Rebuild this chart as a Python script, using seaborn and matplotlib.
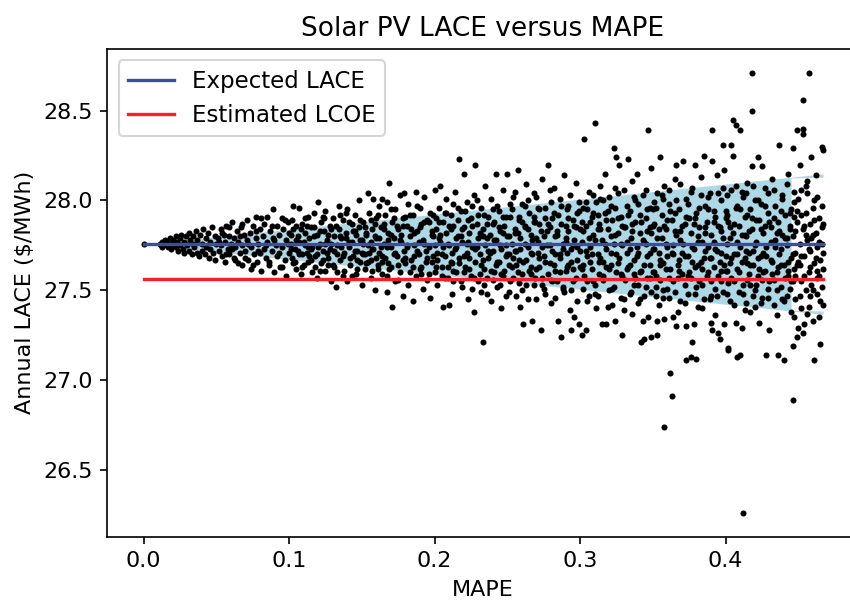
import matplotlib
matplotlib.use("Agg")
import matplotlib.pyplot as plt
import seaborn as sns

plt.rcParams["font.size"] = 10.7

# ---------------- data ----------------
expected_lace = 27.756
estimated_lcoe = 27.561
mape_range = [0.0, 0.467]
band_upper = [27.756, 28.148]
band_lower = [27.756, 27.367]

mape_a = [0.000, 0.011, 0.012, 0.013, 0.013, 0.014, 0.015, 0.016, 0.016, 0.017, 0.018, 0.019, 0.019, 0.020,
          0.021, 0.022, 0.022, 0.023, 0.024, 0.025, 0.025, 0.026, 0.027, 0.028, 0.028, 0.029, 0.030, 0.031,
          0.031, 0.032, 0.033, 0.034, 0.034, 0.035, 0.036, 0.037, 0.037, 0.038, 0.039, 0.040, 0.040, 0.041,
          0.042, 0.043, 0.043, 0.044, 0.045, 0.046, 0.046, 0.047, 0.048, 0.049, 0.049, 0.050]
lace_a = [27.756, 27.76, 27.75, 27.77, 27.74, 27.76, 27.78, 27.75, 27.77, 27.74, 27.79, 27.76, 27.73, 27.78,
          27.75, 27.80, 27.74, 27.77, 27.72, 27.79, 27.75, 27.81, 27.73, 27.77, 27.71, 27.80, 27.75, 27.82,
          27.72, 27.78, 27.70, 27.80, 27.76, 27.74, 27.83, 27.71, 27.78, 27.69, 27.81, 27.76, 27.72, 27.84,
          27.70, 27.79, 27.74, 27.82, 27.68, 27.77, 27.73, 27.85, 27.71, 27.80, 27.67, 27.76]

mape_b = [0.051, 0.052, 0.053, 0.053, 0.054, 0.055, 0.056, 0.056, 0.057, 0.058, 0.059, 0.059, 0.060, 0.061,
          0.062, 0.062, 0.063, 0.064, 0.065, 0.065, 0.066, 0.067, 0.068, 0.068, 0.069, 0.070, 0.071, 0.071,
          0.072, 0.073, 0.074, 0.074, 0.075, 0.076, 0.077, 0.077, 0.078, 0.079, 0.080, 0.080, 0.081, 0.082,
          0.083, 0.083, 0.084, 0.085, 0.085, 0.086, 0.087, 0.088, 0.089, 0.089, 0.090, 0.091, 0.092, 0.092,
          0.093, 0.094, 0.095, 0.095, 0.096, 0.097, 0.098, 0.098, 0.099, 0.100, 0.100]
lace_b = [27.79, 27.72, 27.84, 27.75, 27.69, 27.81, 27.77, 27.66, 27.86, 27.73, 27.80, 27.70, 27.76, 27.88,
          27.68, 27.79, 27.74, 27.83, 27.65, 27.77, 27.71, 27.85, 27.75, 27.64, 27.81, 27.72, 27.89, 27.78,
          27.67, 27.82, 27.74, 27.62, 27.86, 27.70, 27.79, 27.91, 27.66, 27.76, 27.84, 27.71, 27.61, 27.80,
          27.73, 27.87, 27.68, 27.91, 27.77, 27.64, 27.83, 27.72, 27.95, 27.79, 27.60, 27.75, 27.86, 27.69,
          27.81, 27.63, 27.90, 27.74, 27.84, 27.67, 27.78, 27.58, 27.88, 27.71, 27.82]

mape_c = [0.101, 0.102, 0.103, 0.103, 0.104, 0.105, 0.106, 0.107, 0.107, 0.108, 0.109, 0.110, 0.110, 0.111,
          0.112, 0.113, 0.113, 0.114, 0.115, 0.116, 0.116, 0.117, 0.118, 0.119, 0.119, 0.120, 0.121, 0.122,
          0.122, 0.123, 0.124, 0.125, 0.125, 0.126, 0.127, 0.128, 0.128, 0.129, 0.130, 0.131, 0.131, 0.132,
          0.133, 0.134, 0.134, 0.135, 0.136, 0.137, 0.137, 0.138, 0.139, 0.140, 0.140, 0.141, 0.142, 0.143,
          0.143, 0.144, 0.145, 0.146, 0.146, 0.147, 0.148, 0.148, 0.149, 0.150, 0.150,
          0.101, 0.102, 0.104, 0.105, 0.106, 0.108, 0.109, 0.111, 0.112, 0.114, 0.115, 0.117, 0.118, 0.120,
          0.121, 0.123, 0.124, 0.126, 0.127, 0.129, 0.130, 0.132, 0.133, 0.135, 0.136, 0.138, 0.139, 0.141,
          0.142, 0.144, 0.145, 0.147, 0.149, 0.150]
lace_c = [27.76, 27.68, 27.97, 27.84, 27.73, 27.62, 27.80, 27.96, 27.70, 27.59, 27.87, 27.77, 27.64, 27.82,
          27.71, 27.91, 27.66, 27.79, 27.85, 27.60, 27.74, 27.93, 27.69, 27.81, 27.57, 27.99, 27.76, 27.88,
          27.65, 27.72, 27.83, 27.61, 27.94, 27.78, 27.68, 27.86, 27.73, 27.55, 27.90, 27.80, 27.63, 27.52,
          27.75, 27.97, 27.84, 27.67, 27.79, 27.58, 27.89, 27.71, 27.82, 27.55, 27.95, 27.74, 27.64, 27.87,
          27.77, 27.69, 27.92, 27.59, 27.81, 27.72, 28.00, 27.85, 27.66, 27.78, 27.53,
          27.81, 27.89, 27.66, 27.78, 27.72, 27.84, 27.70, 27.75, 27.86, 27.69, 27.73, 27.80, 27.63, 27.74,
          27.83, 27.67, 27.90, 27.71, 27.81, 27.76, 27.64, 27.86, 27.70, 27.92, 27.74, 27.61, 27.79, 27.88,
          27.68, 27.83, 27.72, 27.62, 27.89, 27.71]

mape_d = [0.151, 0.152, 0.152, 0.153, 0.154, 0.154, 0.155, 0.156, 0.156, 0.157, 0.158, 0.158, 0.159, 0.160,
          0.160, 0.161, 0.162, 0.162, 0.163, 0.164, 0.164, 0.165, 0.166, 0.166, 0.167, 0.167, 0.168, 0.169,
          0.169, 0.170, 0.171, 0.171, 0.172, 0.173, 0.173, 0.174, 0.175, 0.176, 0.176, 0.177, 0.178, 0.178,
          0.179, 0.179, 0.180, 0.181, 0.182, 0.182, 0.183, 0.184, 0.185, 0.185, 0.186, 0.187, 0.187, 0.188,
          0.189, 0.190, 0.190, 0.191, 0.192, 0.192, 0.193, 0.194, 0.195, 0.195, 0.196, 0.197, 0.197, 0.198,
          0.199, 0.200, 0.200,
          0.151, 0.152, 0.153, 0.155, 0.156, 0.157, 0.159, 0.160, 0.161, 0.163, 0.164, 0.165, 0.167, 0.168,
          0.170, 0.170, 0.172, 0.174, 0.175, 0.177, 0.178, 0.180, 0.181, 0.183, 0.184, 0.186, 0.188, 0.189,
          0.191, 0.193, 0.194, 0.196, 0.198, 0.199, 0.200]
lace_d = [27.88, 27.70, 27.62, 27.81, 28.04, 27.75, 27.93, 27.57, 27.67, 27.84, 28.01, 27.73, 27.50, 27.90,
          27.79, 27.64, 27.97, 27.71, 27.85, 28.01, 27.59, 27.76, 27.68, 27.92, 27.49, 27.99, 27.82, 28.10,
          27.62, 27.74, 27.41, 27.88, 27.79, 27.55, 27.95, 27.69, 27.84, 27.60, 28.03, 27.77, 27.47, 27.90,
          28.04, 27.72, 27.65, 27.86, 27.53, 27.98, 27.80, 27.67, 27.92, 27.44, 27.75, 27.58, 28.05, 27.83,
          27.70, 27.62, 27.96, 27.87, 27.51, 27.78, 28.02, 27.66, 27.89, 27.56, 27.74, 27.93, 27.46, 27.81,
          27.69, 28.06, 27.60,
          27.76, 27.85, 27.65, 27.71, 27.89, 27.61, 27.80, 27.68, 27.92, 27.74, 27.66, 27.87, 27.58, 27.78,
          27.95, 27.63, 27.70, 27.86, 27.56, 27.81, 27.67, 27.91, 27.74, 27.60, 27.84, 27.69, 27.97, 27.77,
          27.63, 27.88, 27.72, 27.59, 27.83, 27.92, 27.75]

mape_e = [0.201, 0.202, 0.202, 0.203, 0.204, 0.204, 0.205, 0.206, 0.206, 0.207, 0.208, 0.208, 0.209, 0.210,
          0.210, 0.211, 0.212, 0.212, 0.213, 0.214, 0.214, 0.215, 0.216, 0.217, 0.217, 0.218, 0.219, 0.219,
          0.220, 0.220, 0.221, 0.222, 0.222, 0.223, 0.224, 0.225, 0.225, 0.226, 0.227, 0.227, 0.228, 0.228,
          0.229, 0.230, 0.230, 0.231, 0.232, 0.232, 0.233, 0.233, 0.234, 0.235, 0.235, 0.236, 0.237, 0.237,
          0.238, 0.239, 0.239, 0.240, 0.241, 0.241, 0.242, 0.242, 0.243, 0.244, 0.244, 0.245, 0.246, 0.246,
          0.247, 0.247, 0.248, 0.249, 0.249, 0.250, 0.250,
          0.201, 0.203, 0.203, 0.205, 0.207, 0.207, 0.209, 0.211, 0.211, 0.213, 0.213, 0.215, 0.216, 0.218,
          0.218, 0.220, 0.221, 0.223, 0.224, 0.226, 0.226, 0.228, 0.229, 0.231, 0.231, 0.233, 0.234, 0.236,
          0.236, 0.238, 0.240, 0.240, 0.242, 0.243, 0.245, 0.245, 0.247, 0.248, 0.249, 0.250]
lace_e = [27.84, 27.71, 27.53, 27.96, 28.08, 27.77, 27.63, 27.41, 27.88, 27.69, 27.82, 28.01, 27.57, 27.42,
          27.75, 27.92, 27.65, 27.48, 27.86, 27.73, 28.05, 27.60, 27.80, 28.23, 27.68, 27.94, 27.52, 27.77,
          28.15, 27.85, 27.63, 27.71, 27.99, 27.45, 27.82, 27.58, 27.90, 27.74, 27.38, 28.03, 28.20, 27.66,
          27.87, 27.55, 27.79, 27.70, 27.96, 27.49, 27.21, 27.84, 27.62, 28.08, 27.75, 27.57, 27.91, 27.68,
          27.81, 27.44, 28.01, 27.72, 27.60, 27.88, 28.15, 27.78, 27.52, 27.94, 27.66, 27.83, 27.40, 27.73,
          28.06, 27.58, 27.86, 27.69, 27.47, 28.15, 27.80,
          27.63, 27.79, 27.88, 27.70, 27.93, 27.57, 27.76, 27.66, 27.84, 27.98, 27.61, 27.74, 27.89, 27.55,
          27.80, 27.69, 27.94, 27.77, 27.62, 27.86, 27.51, 27.73, 28.00, 27.59, 27.82, 27.67, 27.92, 27.79,
          27.48, 27.71, 27.87, 27.56, 27.64, 27.97, 27.75, 27.53, 27.82, 27.61, 27.91, 27.70]

mape_f = [0.251, 0.252, 0.252, 0.253, 0.254, 0.254, 0.255, 0.256, 0.256, 0.257, 0.257, 0.258, 0.259, 0.259,
          0.260, 0.261, 0.261, 0.262, 0.263, 0.263, 0.264, 0.265, 0.265, 0.266, 0.267, 0.267, 0.268, 0.269,
          0.269, 0.270, 0.271, 0.271, 0.272, 0.273, 0.273, 0.274, 0.275, 0.275, 0.276, 0.277, 0.278, 0.278,
          0.279, 0.280, 0.280, 0.281, 0.282, 0.282, 0.283, 0.284, 0.285, 0.285, 0.286, 0.287, 0.287, 0.288,
          0.289, 0.289, 0.290, 0.291, 0.291, 0.292, 0.293, 0.293, 0.294, 0.294, 0.295, 0.296, 0.296, 0.297,
          0.297, 0.298, 0.299, 0.299, 0.300, 0.300,
          0.251, 0.251, 0.253, 0.253, 0.255, 0.255, 0.257, 0.258, 0.258, 0.260, 0.260, 0.262, 0.262, 0.264,
          0.264, 0.266, 0.266, 0.268, 0.268, 0.270, 0.270, 0.272, 0.272, 0.274, 0.274, 0.276, 0.276, 0.277,
          0.279, 0.279, 0.281, 0.281, 0.283, 0.283, 0.284, 0.286, 0.286, 0.288, 0.288, 0.290, 0.290, 0.292,
          0.292, 0.294, 0.295, 0.295, 0.297, 0.298, 0.298, 0.300]
lace_f = [27.64, 27.91, 27.55, 27.76, 28.02, 27.68, 27.84, 27.47, 27.72, 28.17, 27.60, 27.89, 27.79, 27.41,
          27.98, 27.31, 27.66, 27.86, 27.53, 28.09, 27.74, 27.61, 27.93, 27.81, 27.33, 27.70, 28.04, 27.57,
          27.88, 27.45, 27.77, 27.96, 27.63, 27.28, 27.83, 28.12, 27.69, 27.51, 27.90, 27.75, 28.20, 27.59,
          27.85, 27.43, 27.99, 27.72, 27.64, 28.07, 27.80, 27.55, 27.33, 27.92, 27.68, 27.24, 27.87, 27.76,
          28.14, 27.49, 27.61, 27.95, 27.71, 27.83, 27.39, 28.03, 27.28, 27.66, 27.89, 27.35, 27.78, 27.57,
          28.10, 27.74, 27.31, 27.94, 27.63, 27.84,
          27.80, 27.49, 27.95, 27.63, 27.72, 28.05, 27.82, 27.54, 27.67, 27.88, 27.59, 27.76, 27.97, 27.45,
          27.84, 27.63, 27.71, 27.91, 27.53, 27.79, 28.02, 27.68, 27.87, 27.57, 27.74, 27.96, 27.48, 27.83,
          27.65, 28.06, 27.55, 27.90, 27.70, 27.46, 27.81, 27.60, 28.01, 27.73, 27.52, 27.86, 27.79, 27.64,
          27.97, 27.50, 27.75, 27.62, 27.85, 27.93, 27.44, 27.72]

mape_g = [0.301, 0.301, 0.302, 0.303, 0.303, 0.304, 0.304, 0.305, 0.306, 0.306, 0.307, 0.308, 0.308, 0.309,
          0.310, 0.310, 0.311, 0.311, 0.312, 0.313, 0.313, 0.314, 0.315, 0.315, 0.316, 0.317, 0.317, 0.318,
          0.318, 0.319, 0.320, 0.320, 0.321, 0.322, 0.322, 0.323, 0.323, 0.324, 0.324, 0.325, 0.325, 0.326,
          0.327, 0.327, 0.328, 0.328, 0.329, 0.329, 0.330, 0.331, 0.331, 0.332, 0.333, 0.333, 0.334, 0.335,
          0.335, 0.336, 0.336, 0.337, 0.338, 0.338, 0.339, 0.339, 0.340, 0.340, 0.341, 0.342, 0.342, 0.343,
          0.343, 0.344, 0.344, 0.345, 0.345, 0.346, 0.347, 0.347, 0.348, 0.348, 0.349, 0.349, 0.350, 0.350,
          0.301, 0.302, 0.302, 0.304, 0.305, 0.305, 0.307, 0.307, 0.309, 0.309, 0.310, 0.312, 0.312, 0.314,
          0.314, 0.316, 0.316, 0.318, 0.319, 0.319, 0.321, 0.321, 0.323, 0.324, 0.326, 0.326, 0.328, 0.329,
          0.330, 0.330, 0.332, 0.332, 0.334, 0.334, 0.336, 0.337, 0.337, 0.339, 0.340, 0.341, 0.341, 0.343,
          0.344, 0.345, 0.346, 0.346, 0.348, 0.348, 0.349, 0.350, 0.350]
lace_g = [27.25, 27.77, 27.96, 28.34, 27.58, 27.28, 27.86, 27.69, 28.05, 27.47, 27.74, 27.91, 27.62, 27.81,
          28.43, 27.53, 27.40, 27.99, 27.70, 27.87, 27.59, 28.08, 27.31, 27.78, 27.66, 28.15, 27.93, 27.31,
          27.73, 27.84, 27.50, 28.02, 27.64, 27.89, 27.42, 28.29, 27.76, 27.33, 27.96, 28.24, 27.60, 27.82,
          28.20, 27.68, 27.46, 27.91, 27.25, 27.75, 28.06, 27.56, 27.85, 27.71, 28.23, 27.63, 27.94, 27.49,
          27.79, 27.37, 28.11, 27.67, 27.88, 27.57, 28.15, 27.74, 27.43, 27.98, 27.82, 27.21, 27.61, 27.33,
          28.03, 27.23, 27.77, 27.90, 27.52, 27.69, 28.39, 27.35, 27.85, 27.64, 27.24, 28.18, 27.73, 27.95,
          27.62, 27.83, 27.51, 27.72, 27.95, 27.44, 27.66, 27.88, 27.55, 28.03, 27.78, 27.47, 27.92, 27.68,
          27.84, 27.56, 28.00, 27.63, 27.94, 27.41, 27.80, 27.71, 27.52, 28.07, 27.65, 27.90, 27.76, 27.58,
          27.85, 27.39, 27.97, 27.62, 27.73, 27.48, 27.87, 27.59, 28.02, 27.69, 27.53, 27.92, 27.45, 27.78,
          27.64, 28.06, 27.83, 27.57, 27.71, 27.96, 27.49, 27.86, 27.60]

mape_h = [0.351, 0.351, 0.352, 0.353, 0.353, 0.353, 0.354, 0.355, 0.355, 0.356, 0.356, 0.357, 0.358, 0.358,
          0.358, 0.359, 0.360, 0.360, 0.361, 0.362, 0.362, 0.363, 0.363, 0.364, 0.364, 0.365, 0.366, 0.366,
          0.366, 0.367, 0.368, 0.368, 0.369, 0.370, 0.371, 0.371, 0.372, 0.373, 0.373, 0.373, 0.374, 0.375,
          0.375, 0.376, 0.376, 0.377, 0.377, 0.378, 0.378, 0.379, 0.379, 0.380, 0.380, 0.381, 0.382, 0.382,
          0.383, 0.384, 0.384, 0.385, 0.385, 0.386, 0.387, 0.387, 0.388, 0.389, 0.389, 0.390, 0.390, 0.391,
          0.391, 0.391, 0.392, 0.393, 0.393, 0.394, 0.394, 0.395, 0.395, 0.396, 0.396, 0.397, 0.397, 0.398,
          0.398, 0.399, 0.399, 0.400, 0.400,
          0.351, 0.352, 0.352, 0.354, 0.354, 0.355, 0.357, 0.357, 0.359, 0.359, 0.360, 0.361, 0.361, 0.363,
          0.364, 0.365, 0.365, 0.367, 0.367, 0.369, 0.369, 0.370, 0.372, 0.372, 0.374, 0.374, 0.376, 0.377,
          0.379, 0.379, 0.381, 0.381, 0.383, 0.383, 0.384, 0.386, 0.386, 0.388, 0.388, 0.390, 0.390, 0.392,
          0.392, 0.393, 0.395, 0.395, 0.397, 0.397, 0.398, 0.399, 0.400]
lace_h = [27.60, 27.87, 27.47, 27.25, 27.33, 28.04, 27.71, 28.24, 27.56, 27.92, 27.79, 27.65, 27.34, 26.74,
          28.08, 27.84, 27.51, 27.74, 27.98, 27.04, 27.62, 26.91, 27.89, 27.35, 27.70, 28.12, 27.30, 28.20,
          27.81, 27.57, 27.95, 27.67, 27.44, 27.86, 28.22, 27.76, 27.53, 27.11, 27.30, 28.01, 27.69, 27.90,
          27.60, 27.13, 27.82, 27.21, 28.07, 27.31, 27.73, 28.20, 27.48, 27.12, 27.93, 27.64, 27.85, 27.55,
          28.13, 27.77, 27.40, 28.25, 27.68, 27.97, 27.58, 27.88, 27.74, 27.45, 28.04, 27.32, 27.81, 27.28,
          28.39, 28.22, 27.63, 27.91, 27.51, 28.14, 27.72, 27.26, 27.86, 27.23, 27.66, 28.00, 27.55, 28.31,
          27.79, 27.31, 28.17, 27.61, 27.94,
          27.73, 27.96, 27.58, 27.84, 27.42, 27.67, 28.01, 27.50, 27.76, 27.62, 27.89, 27.46, 28.06, 27.71,
          27.55, 27.83, 27.93, 27.64, 27.38, 27.78, 28.09, 27.59, 27.87, 27.69, 27.48, 27.98, 27.57, 27.74,
          27.90, 27.63, 27.41, 27.80, 27.66, 28.03, 27.53, 27.85, 27.72, 27.60, 27.95, 27.47, 27.68, 27.88,
          27.77, 27.36, 27.58, 28.04, 27.71, 27.83, 27.49, 27.64, 27.90]

mape_i = [0.401, 0.401, 0.402, 0.402, 0.402, 0.403, 0.404, 0.404, 0.405, 0.405, 0.405, 0.406, 0.407, 0.407,
          0.407, 0.408, 0.408, 0.409, 0.410, 0.410, 0.410, 0.411, 0.411, 0.412, 0.412, 0.413, 0.413, 0.414,
          0.414, 0.415, 0.416, 0.416, 0.417, 0.417, 0.418, 0.418, 0.418, 0.418, 0.419, 0.420, 0.420, 0.421,
          0.422, 0.422, 0.423, 0.423, 0.424, 0.425, 0.425, 0.426, 0.427, 0.427, 0.428, 0.428, 0.429, 0.430,
          0.430, 0.431, 0.432, 0.432, 0.433, 0.434, 0.434, 0.435, 0.436, 0.436, 0.437, 0.437, 0.438, 0.439,
          0.439, 0.440, 0.440, 0.441, 0.442, 0.442, 0.443, 0.443, 0.444, 0.445, 0.445,
          0.401, 0.401, 0.403, 0.403, 0.404, 0.406, 0.406, 0.408, 0.408, 0.409, 0.411, 0.411, 0.412, 0.413,
          0.414, 0.415, 0.415, 0.416, 0.417, 0.419, 0.419, 0.420, 0.421, 0.421, 0.422, 0.424, 0.424, 0.426,
          0.426, 0.427, 0.429, 0.429, 0.431, 0.431, 0.433, 0.433, 0.435, 0.435, 0.436, 0.438, 0.438, 0.439,
          0.441, 0.441, 0.442, 0.443, 0.444, 0.444, 0.445]
lace_i = [27.76, 27.48, 27.17, 27.18, 27.88, 27.65, 28.31, 27.57, 28.45, 28.25, 27.82, 27.70, 28.42, 27.32,
          27.96, 27.13, 27.62, 27.86, 28.39, 27.14, 27.74, 27.29, 28.05, 26.26, 27.53, 27.91, 27.68, 27.43,
          27.80, 28.10, 27.59, 27.71, 27.95, 27.38, 28.71, 28.50, 28.19, 27.84, 27.64, 27.50, 28.00, 27.77,
          28.24, 27.58, 27.32, 27.89, 27.69, 28.19, 27.46, 27.82, 27.61, 28.07, 27.14, 27.74, 27.93, 27.28,
          27.55, 27.85, 27.66, 28.12, 27.42, 27.78, 27.97, 27.60, 27.14, 27.88, 28.31, 27.70, 27.52, 28.03,
          27.81, 27.11, 27.64, 27.92, 27.47, 27.75, 28.15, 27.58, 27.86, 27.68, 27.38,
          27.92, 27.61, 27.79, 27.44, 28.06, 27.55, 27.87, 27.70, 27.97, 27.49, 27.66, 27.81, 28.02, 27.39,
          27.72, 27.92, 27.56, 27.83, 27.64, 28.08, 27.47, 27.75, 27.89, 27.53, 27.68, 27.98, 27.43, 27.71,
          27.60, 27.86, 27.51, 28.04, 27.67, 27.77, 27.90, 27.56, 27.82, 27.36, 27.63, 27.94, 27.73, 27.45,
          27.79, 27.57, 28.09, 27.66, 27.84, 27.51, 27.95]

mape_j = [0.446, 0.446, 0.446, 0.446, 0.447, 0.447, 0.448, 0.448, 0.449, 0.449, 0.449, 0.450, 0.450, 0.451,
          0.451, 0.452, 0.452, 0.453, 0.453, 0.453, 0.453, 0.453, 0.454, 0.454, 0.455, 0.455, 0.456, 0.456,
          0.457, 0.457, 0.457, 0.458, 0.458, 0.459, 0.459, 0.460, 0.460, 0.461, 0.461, 0.462, 0.462, 0.463,
          0.463, 0.464, 0.464, 0.465, 0.465, 0.466, 0.466, 0.466, 0.467, 0.467, 0.467,
          0.446, 0.447, 0.447, 0.448, 0.449, 0.450, 0.451, 0.452, 0.452, 0.454, 0.455, 0.456, 0.456, 0.458,
          0.459, 0.460, 0.461, 0.462, 0.463, 0.463, 0.464, 0.465, 0.466, 0.467, 0.467]
lace_j = [26.89, 27.19, 28.29, 27.80, 27.62, 27.99, 27.71, 27.45, 28.39, 27.24, 27.88, 27.29, 27.66, 28.20,
          27.76, 27.55, 28.06, 28.56, 28.40, 28.37, 27.26, 27.84, 27.31, 27.69, 27.93, 27.50, 27.78, 28.11,
          28.71, 27.60, 27.41, 27.87, 27.72, 28.24, 27.53, 27.33, 27.96, 27.11, 27.65, 27.82, 28.14, 27.48,
          27.74, 27.90, 27.58, 27.20, 27.67, 28.30, 27.52, 27.85, 28.28, 27.62, 27.42,
          27.55, 27.91, 27.35, 27.83, 27.64, 28.01, 27.47, 27.69, 27.92, 27.58, 27.81, 27.37, 28.04, 27.63,
          27.79, 27.50, 27.89, 27.68, 28.02, 27.57, 27.77, 27.44, 27.97, 27.71, 27.87]

# further points inside the dense band, as (MAPE, LACE) pairs
band_pts_b = [(0.052, 27.77), (0.054, 27.82), (0.057, 27.70), (0.059, 27.85), (0.061, 27.73), (0.063, 27.67),
              (0.066, 27.80), (0.068, 27.87), (0.070, 27.68), (0.072, 27.76), (0.075, 27.64), (0.077, 27.83),
              (0.079, 27.72), (0.081, 27.90), (0.084, 27.75), (0.086, 27.66), (0.088, 27.86), (0.090, 27.78),
              (0.093, 27.71), (0.095, 27.63), (0.097, 27.89), (0.099, 27.76)]
band_pts_c = [(0.101, 27.73), (0.103, 27.65), (0.105, 27.86), (0.107, 27.77), (0.109, 27.63), (0.111, 27.90),
              (0.113, 27.74), (0.115, 27.67), (0.117, 27.85), (0.119, 27.70), (0.121, 27.61), (0.123, 27.91),
              (0.125, 27.76), (0.127, 27.64), (0.129, 27.84), (0.131, 27.72), (0.133, 27.60), (0.135, 27.80),
              (0.137, 27.69), (0.139, 27.93), (0.141, 27.77), (0.143, 27.58), (0.145, 27.83), (0.147, 27.67),
              (0.149, 27.78)]
band_pts_d = [(0.151, 27.70), (0.153, 27.82), (0.154, 27.66), (0.156, 27.77), (0.157, 27.73), (0.159, 27.87),
              (0.161, 27.62), (0.162, 27.79), (0.164, 27.69), (0.165, 27.84), (0.167, 27.74), (0.168, 27.65),
              (0.170, 27.81), (0.172, 27.90), (0.173, 27.71), (0.175, 27.64), (0.176, 27.78), (0.178, 27.86),
              (0.180, 27.68), (0.181, 27.75), (0.183, 27.92), (0.185, 27.63), (0.186, 27.82), (0.188, 27.72),
              (0.190, 27.85), (0.191, 27.59), (0.193, 27.76), (0.195, 27.68), (0.196, 27.88), (0.198, 27.66),
              (0.199, 27.80)]
band_pts_e = [(0.201, 27.90), (0.202, 27.67), (0.204, 27.81), (0.205, 27.58), (0.206, 27.74), (0.208, 27.93),
              (0.209, 27.63), (0.210, 27.86), (0.212, 27.71), (0.213, 27.55), (0.215, 27.79), (0.216, 27.96),
              (0.217, 27.65), (0.219, 27.84), (0.220, 27.60), (0.222, 27.76), (0.223, 27.89), (0.224, 27.68),
              (0.226, 27.97), (0.227, 27.57), (0.229, 27.74), (0.230, 27.92), (0.232, 27.64), (0.233, 27.80),
              (0.234, 27.53), (0.236, 27.87), (0.237, 27.72), (0.239, 27.61), (0.240, 27.95), (0.241, 27.78),
              (0.243, 27.66), (0.244, 27.85), (0.246, 27.59), (0.247, 27.91), (0.249, 27.75)]
band_pts_f = [(0.251, 27.70), (0.252, 27.98), (0.254, 27.57), (0.255, 27.82), (0.256, 27.64), (0.258, 27.91),
              (0.259, 27.73), (0.260, 27.50), (0.262, 27.85), (0.263, 27.67), (0.264, 28.00), (0.266, 27.59),
              (0.267, 27.78), (0.268, 27.88), (0.270, 27.62), (0.271, 27.71), (0.272, 27.95), (0.274, 27.53),
              (0.275, 27.80), (0.276, 27.66), (0.278, 27.87), (0.279, 27.75), (0.280, 27.56), (0.282, 27.93),
              (0.283, 27.61), (0.284, 27.83), (0.286, 27.70), (0.287, 27.97), (0.288, 27.51), (0.290, 27.77),
              (0.291, 27.63), (0.292, 27.90), (0.294, 27.73), (0.295, 27.55), (0.296, 27.86), (0.298, 27.67),
              (0.299, 27.99)]
band_pts_g = [(0.301, 27.88), (0.302, 27.64), (0.304, 27.99), (0.305, 27.55), (0.306, 27.79), (0.308, 27.70),
              (0.309, 27.93), (0.310, 27.48), (0.312, 27.84), (0.313, 27.66), (0.314, 28.01), (0.316, 27.58),
              (0.317, 27.76), (0.318, 27.89), (0.320, 27.62), (0.321, 27.97), (0.322, 27.51), (0.324, 27.81),
              (0.325, 27.70), (0.326, 28.04), (0.328, 27.59), (0.329, 27.86), (0.330, 27.45), (0.332, 27.77),
              (0.333, 27.92), (0.334, 27.64), (0.336, 27.83), (0.337, 27.53), (0.338, 28.00), (0.340, 27.71),
              (0.341, 27.60), (0.342, 27.88), (0.344, 27.47), (0.345, 27.76), (0.346, 27.95), (0.348, 27.57),
              (0.349, 27.82)]
band_pts_h = [(0.351, 27.99), (0.352, 27.52), (0.353, 27.79), (0.355, 27.64), (0.356, 28.03), (0.357, 27.46),
              (0.358, 27.86), (0.360, 27.69), (0.361, 27.57), (0.362, 27.94), (0.364, 27.75), (0.365, 27.49),
              (0.366, 28.00), (0.368, 27.61), (0.369, 27.83), (0.370, 27.71), (0.372, 27.43), (0.373, 27.91),
              (0.374, 27.58), (0.376, 28.05), (0.377, 27.66), (0.378, 27.87), (0.380, 27.52), (0.381, 27.77),
              (0.382, 27.96), (0.384, 27.62), (0.385, 27.45), (0.386, 27.82), (0.388, 28.02), (0.389, 27.68),
              (0.390, 27.55), (0.392, 27.94), (0.393, 27.73), (0.394, 27.47), (0.396, 27.85), (0.397, 27.61),
              (0.398, 28.07), (0.400, 27.69)]
band_pts_i = [(0.401, 28.03), (0.402, 27.54), (0.403, 27.85), (0.404, 27.68), (0.406, 27.42), (0.407, 28.08),
              (0.408, 27.77), (0.409, 27.60), (0.410, 27.95), (0.412, 27.48), (0.413, 27.81), (0.414, 28.04),
              (0.415, 27.65), (0.417, 27.53), (0.418, 27.90), (0.419, 27.72), (0.420, 27.41), (0.422, 28.00),
              (0.423, 27.62), (0.424, 27.84), (0.425, 27.56), (0.427, 27.97), (0.428, 27.69), (0.429, 27.46),
              (0.430, 27.88), (0.432, 27.59), (0.433, 28.06), (0.434, 27.74), (0.435, 27.50), (0.437, 27.83),
              (0.438, 27.64), (0.439, 28.01), (0.440, 27.44), (0.442, 27.79), (0.443, 27.61), (0.444, 27.93),
              (0.445, 27.55)]
band_pts_j = [(0.446, 27.70), (0.447, 28.05), (0.448, 27.58), (0.449, 27.94), (0.451, 27.64), (0.452, 27.40),
              (0.454, 27.86), (0.455, 28.08), (0.457, 27.73), (0.458, 27.47), (0.460, 27.81), (0.461, 28.00),
              (0.463, 27.61), (0.464, 27.35), (0.466, 27.76)]

mape = mape_a + mape_b + mape_c + mape_d + mape_e + mape_f + mape_g + mape_h + mape_i + mape_j
lace = lace_a + lace_b + lace_c + lace_d + lace_e + lace_f + lace_g + lace_h + lace_i + lace_j
for group in (band_pts_b, band_pts_c, band_pts_d, band_pts_e, band_pts_f,
              band_pts_g, band_pts_h, band_pts_i, band_pts_j):
    mape += [p[0] for p in group]
    lace += [p[1] for p in group]

# ---------------- figure ----------------
DPI = 150
fig = plt.figure(figsize=(850 / DPI, 601 / DPI), dpi=DPI)
# the original axes box runs slightly past the right edge of the image
ax = fig.add_axes([107.3 / 850, 1 - 536.7 / 601, (858 - 107.3) / 850, (536.7 - 49) / 601])

band_color = "#add8e6"
cut = 0.445
up_cut = band_upper[0] + (band_upper[1] - band_upper[0]) * cut / mape_range[1]
lo_cut = band_lower[0] + (band_lower[1] - band_lower[0]) * cut / mape_range[1]
ax.fill_between([0.0, cut], [band_lower[0], lo_cut], [band_upper[0], up_cut],
                color=band_color, linewidth=0, zorder=1)
ax.fill_between([cut, mape_range[1]], [up_cut - 0.004, band_upper[1] - 0.018], [up_cut, band_upper[1]],
                color=band_color, linewidth=0, zorder=1)
ax.fill_between([cut, mape_range[1]], [lo_cut, band_lower[1]], [lo_cut + 0.004, band_lower[1] + 0.018],
                color=band_color, linewidth=0, zorder=1)

sns.scatterplot(x=mape, y=lace, color="black", s=8.5, linewidth=0, ax=ax, zorder=2, legend=False)

sns.lineplot(x=mape_range, y=[expected_lace, expected_lace], color="#3b4fa0", linewidth=1.6,
             ax=ax, label="Expected LACE", zorder=3)
sns.lineplot(x=mape_range, y=[estimated_lcoe, estimated_lcoe], color="#fa1e28", linewidth=1.6,
             ax=ax, label="Estimated LCOE", zorder=3)

ax.set_xlim(-0.0249, 0.4910)
ax.set_ylim(26.129, 28.843)
ax.set_xticks([0.0, 0.1, 0.2, 0.3, 0.4])
ax.set_yticks([26.5, 27.0, 27.5, 28.0, 28.5])
ax.set_xlabel("MAPE")
ax.set_ylabel("Annual LACE ($/MWh)")
ax.set_title("Solar PV LACE versus MAPE", fontsize=12.7)
ax.legend(loc="upper left", fontsize=11)

fig.savefig("out.png", dpi=DPI)
